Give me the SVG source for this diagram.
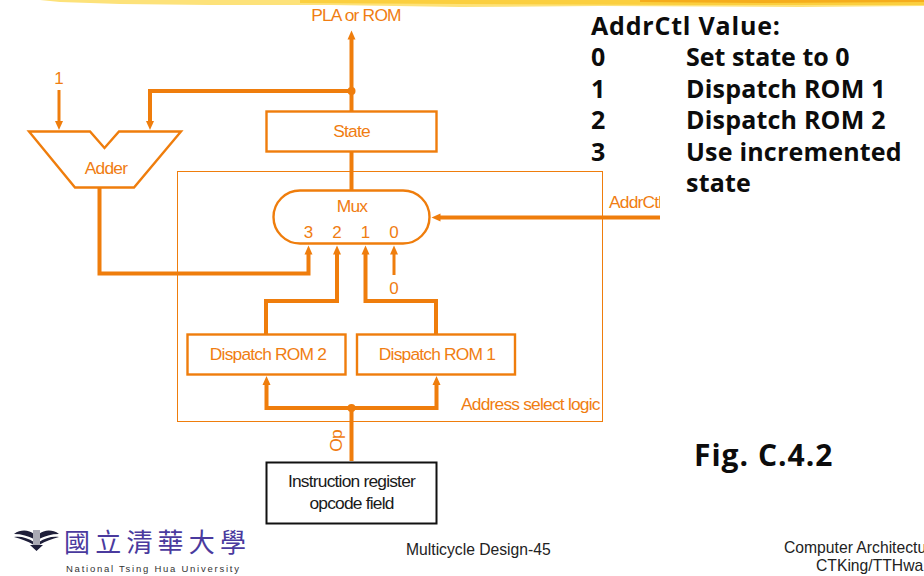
<svg xmlns="http://www.w3.org/2000/svg" width="924" height="576" viewBox="0 0 924 576">
<defs>
<clipPath id="ctl"><rect x="600" y="190" width="60" height="30"/></clipPath>
</defs>
<style>
text{font-family:"Liberation Sans",Arial,sans-serif;}
.o{fill:#f07d12;font-size:17.400px;letter-spacing:-0.800px;}
.d{letter-spacing:0;font-size:17px;}
.box{fill:#fff;stroke:#ef7d0c;stroke-width:2.400;}
.w{fill:none;stroke:#ef7d0c;stroke-width:4;}
.t{fill:none;stroke:#ef7d0c;stroke-width:3;}
.h{fill:#ef7d0c;}
.b{fill:#0c0c0c;font-family:"Open Sans","Liberation Sans",sans-serif;font-weight:700;font-size:25px;letter-spacing:0.200px;}
.f{fill:#222;font-size:15.700px;}
.m{fill:#1a1a1a;font-size:17.400px;letter-spacing:-0.800px;}
</style>
<rect width="924" height="576" fill="#fff"/>
<g id="banner"><path d="M40 0 L924 0 L924 6 L800 7 L600 6 L460 7 L330 5 L210 5 L120 4 L60 2 Z" fill="#fde27a"/><path d="M300 0 L924 0 L924 5 L700 5 L460 4 L300 3 Z" fill="#fbcf3f"/><path d="M640 0 L924 0 L924 2 L760 3 L640 2 Z" fill="#f5ad1c"/></g>
<g id="address-select-logic"><rect x="177.500" y="171.500" width="425" height="250" fill="none" stroke="#ef7d0c" stroke-width="1"/><text class="o" x="461" y="410">Address select logic</text></g>
<g id="connectors">
<path class="w" d="M351.500 111V38"/><path class="h" d="M351.500 30.500l-4 9h8z"/>
<path class="w" d="M351.500 91H150V122"/><path class="h" d="M150 130l-4-9h8z"/>
<circle class="h" cx="351.500" cy="91" r="4"/>
<path class="t" d="M59 90V122"/><path class="h" d="M59 130l-4-9h8z"/>
<path class="w" d="M351.500 150V191"/>
<path class="w" d="M99.500 187V273.500H308.500V254"/><path class="h" d="M308.500 245.500l-4 9h8z"/>
<path class="w" d="M337 254V301H266V335"/><path class="h" d="M337 245.500l-4 9h8z"/>
<path class="w" d="M365.500 254V301H436V335"/><path class="h" d="M365.500 245.500l-4 9h8z"/>
<path class="t" d="M394 254V275"/><path class="h" d="M394 245.500l-4 9h8z"/>
<path class="w" d="M660 217.500H439"/><path class="h" d="M431.500 217.500l9-4v8z"/>
<path class="w" d="M351.500 461V408M266.500 384V408H436.500V384"/><path class="h" d="M266.500 376l-4 9h8zM436.500 376l-4 9h8z"/>
<circle class="h" cx="351.500" cy="408" r="4"/>
</g>
<g id="pla-or-rom"><text class="o" x="356" y="21" text-anchor="middle">PLA or ROM</text></g>
<g id="one"><text class="o d" x="59" y="84" text-anchor="middle">1</text></g>
<g id="state"><rect class="box" x="266.500" y="111.500" width="170" height="40"/><text class="o" x="351.500" y="137" text-anchor="middle">State</text></g>
<g id="adder"><path class="box" d="M29 131.500H90L104.500 148L119 131.500H181L134 187.500H75Z"/><text class="o" x="106" y="174" text-anchor="middle">Adder</text></g>
<g id="mux"><rect class="box" x="273.500" y="190.500" width="156" height="53" rx="26.500"/><text class="o" x="352" y="212" text-anchor="middle">Mux</text>
<text class="o d" x="308.500" y="238" text-anchor="middle">3</text><text class="o d" x="337" y="238" text-anchor="middle">2</text><text class="o d" x="365.500" y="238" text-anchor="middle">1</text><text class="o d" x="394" y="238" text-anchor="middle">0</text></g>
<g id="zero"><text class="o d" x="394" y="294" text-anchor="middle">0</text></g>
<g id="addrctl"><text class="o" x="609" y="208" clip-path="url(#ctl)">AddrCtl</text></g>
<g id="rom2"><rect class="box" x="187.500" y="334.500" width="158" height="40"/><text class="o" x="268" y="360" text-anchor="middle">Dispatch ROM 2</text></g>
<g id="rom1"><rect class="box" x="357" y="334.500" width="158" height="40"/><text class="o" x="437" y="360" text-anchor="middle">Dispatch ROM 1</text></g>
<g id="op"><text class="o" x="0" y="0" transform="translate(342 441) rotate(-90)" text-anchor="middle">Op</text></g>
<g id="ir"><rect x="266.500" y="462.500" width="170" height="61" fill="#fff" stroke="#111" stroke-width="2"/><text class="m" x="351.500" y="487" text-anchor="middle">Instruction register</text><text class="m" x="351.500" y="509" text-anchor="middle">opcode field</text></g>
<g id="legend">
<text class="b" x="591" y="35" style="letter-spacing:0.800px">AddrCtl Value:</text>
<text class="b" x="591" y="66">0</text><text class="b" x="686" y="66" style="letter-spacing:0">Set state to 0</text>
<text class="b" x="591" y="98">1</text><text class="b" x="686" y="98">Dispatch ROM 1</text>
<text class="b" x="591" y="129">2</text><text class="b" x="686" y="129">Dispatch ROM 2</text>
<text class="b" x="591" y="161">3</text><text class="b" x="686" y="161">Use incremented</text>
<text class="b" x="686" y="192">state</text>
</g>
<g id="fig"><text class="b" x="694" y="466" style="font-size:30px;letter-spacing:1px">Fig. C.4.2</text></g>
<g id="footer"><text class="f" x="406" y="555">Multicycle Design-45</text><text class="f" x="784" y="553">Computer Architectu</text><text class="f" x="816" y="571">CTKing/TTHwa</text></g>
<g id="logo">
<path d="M14 534C21 529 29 530 34 534V539C28 536 22 534 14 534ZM14 537C21 536 28 538 34 542V545C27 541 21 539 14 537ZM59 534C52 529 44 530 39 534V539C45 536 51 534 59 534ZM59 537C52 536 45 538 39 542V545C46 541 52 539 59 537ZM30 545H43L36.500 551Z" fill="#1f1f3a"/>
<rect x="33" y="530" width="7" height="15" fill="#a9a9b4"/>
<text x="64" y="552" style="font-family:'Noto Sans CJK TC','Noto Sans CJK SC',sans-serif;font-size:26px;letter-spacing:5.200px" fill="#4a3a9e">國立清華大學</text>
<text x="66" y="572" style="font-size:9.500px;letter-spacing:1.750px" fill="#333">National Tsing Hua University</text>
</g>
</svg>
